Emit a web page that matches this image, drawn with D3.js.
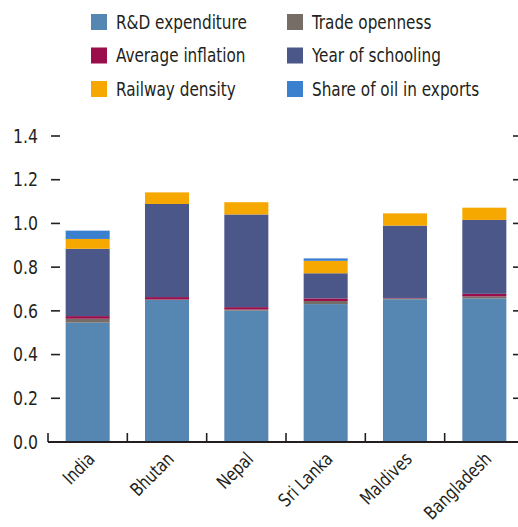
<!DOCTYPE html>
<html>
<head>
<meta charset="utf-8">
<script src="https://cdn.jsdelivr.net/npm/d3@7"></script>
<style>
  html, body { margin: 0; padding: 0; background: #fff; }
  svg { display: block; }
  text { font-family: "Liberation Sans Narrow", "DejaVu Sans Condensed", "Roboto", sans-serif; fill: #231f20; }
</style>
</head>
<body>
<svg id="chart" width="518" height="527"></svg>
<script>
// Countries along the x axis
const countries = ["India", "Bhutan", "Nepal", "Sri Lanka", "Maldives", "Bangladesh"];

// Contribution of each factor, stacked bottom to top
const rdExpenditure   = [0.546, 0.650, 0.601, 0.631, 0.653, 0.657];
const tradeOpenness   = [0.018, 0.002, 0.005, 0.014, 0.004, 0.009];
const avgInflation    = [0.012, 0.011, 0.011, 0.012, 0.002, 0.012];
const yearsSchooling  = [0.308, 0.426, 0.424, 0.115, 0.331, 0.338];
const railwayDensity  = [0.045, 0.053, 0.056, 0.057, 0.056, 0.056];
const oilShareExports = [0.038, 0.000, 0.000, 0.011, 0.000, 0.000];

const seriesNames = ["R&D expenditure", "Trade openness", "Average inflation",
                     "Year of schooling", "Railway density", "Share of oil in exports"];
const seriesValues = [rdExpenditure, tradeOpenness, avgInflation,
                      yearsSchooling, railwayDensity, oilShareExports];
const seriesColors = ["#5687b3", "#756d66", "#9a0f4b", "#4b5689", "#f6a800", "#3b7fcf"];

const yTicks = [0, 0.2, 0.4, 0.6, 0.8, 1.0, 1.2, 1.4];

// Legend order (two columns)
const legendOrder = ["R&D expenditure", "Trade openness",
                     "Average inflation", "Year of schooling",
                     "Railway density", "Share of oil in exports"];

const rows = countries.map((c, i) => {
  const r = { country: c };
  seriesNames.forEach((s, j) => { r[s] = seriesValues[j][i]; });
  return r;
});

const svg = d3.select("#chart");

const x = d3.scaleBand()
  .domain(countries)
  .range([48, 524])
  .paddingInner(0.445)
  .paddingOuter(0.2225);

const y = d3.scaleLinear().domain([0, 1.4]).range([442, 136]);

const stacked = d3.stack().keys(seriesNames)(rows);
const color = d3.scaleOrdinal().domain(seriesNames).range(seriesColors);

// Stacked bars
svg.append("g")
  .selectAll("g")
  .data(stacked)
  .join("g")
  .attr("fill", d => color(d.key))
  .selectAll("rect")
  .data(d => d)
  .join("rect")
  .attr("x", d => x(d.data.country))
  .attr("width", x.bandwidth())
  .attr("y", d => y(d[1]))
  .attr("height", d => Math.max(0, y(d[0]) - y(d[1])));

// Left axis: labels plus short dashes
const yAxisLeft = svg.append("g");
yAxisLeft.selectAll("line")
  .data(yTicks.filter(t => t > 0))
  .join("line")
  .attr("x1", 51).attr("x2", 60)
  .attr("y1", d => y(d)).attr("y2", d => y(d))
  .attr("stroke", "#231f20").attr("stroke-width", 1.6);
yAxisLeft.selectAll("text")
  .data(yTicks)
  .join("text")
  .attr("transform", d => `translate(38,${y(d)}) scale(0.92,1)`)
  .attr("dy", "0.35em")
  .attr("text-anchor", "end")
  .attr("font-size", 19)
  .text(d => d3.format(".1f")(d));

// Right axis dashes
svg.append("g").selectAll("line")
  .data(yTicks.filter(t => t > 0))
  .join("line")
  .attr("x1", 513).attr("x2", 520)
  .attr("y1", d => y(d)).attr("y2", d => y(d))
  .attr("stroke", "#231f20").attr("stroke-width", 1.6);

// Bottom axis with upward ticks at band boundaries
const xAxis = svg.append("g");
xAxis.append("line")
  .attr("x1", 48).attr("x2", 518)
  .attr("y1", y(0)).attr("y2", y(0))
  .attr("stroke", "#231f20").attr("stroke-width", 1.8);
const step = x.step();
xAxis.selectAll("line.tick")
  .data(countries)
  .join("line")
  .attr("class", "tick")
  .attr("x1", d => x(d) - x.paddingOuter() * step)
  .attr("x2", d => x(d) - x.paddingOuter() * step)
  .attr("y1", y(0)).attr("y2", y(0) - 9)
  .attr("stroke", "#231f20").attr("stroke-width", 1.6);
xAxis.selectAll("text")
  .data(countries)
  .join("text")
  .attr("transform", d => `translate(${x(d) + x.bandwidth() / 2 - 1},${y(0) + 9}) rotate(-45) scale(0.88,1)`)
  .attr("text-anchor", "end")
  .attr("dy", "0.7em")
  .attr("font-size", 18.5)
  .text(d => d);

// Legend
const legend = svg.append("g");
const legendItems = legend.selectAll("g")
  .data(legendOrder)
  .join("g")
  .attr("transform", (d, i) => `translate(${i % 2 === 0 ? 91 : 287},${22 + Math.floor(i / 2) * 33.5})`);
legendItems.append("rect")
  .attr("x", 0).attr("y", -8)
  .attr("width", 16).attr("height", 16)
  .attr("fill", d => color(d));
legendItems.append("text")
  .attr("transform", "translate(25,0) scale(0.87,1)")
  .attr("dy", "0.35em")
  .attr("font-size", 19.5)
  .text(d => d);
</script>
</body>
</html>
